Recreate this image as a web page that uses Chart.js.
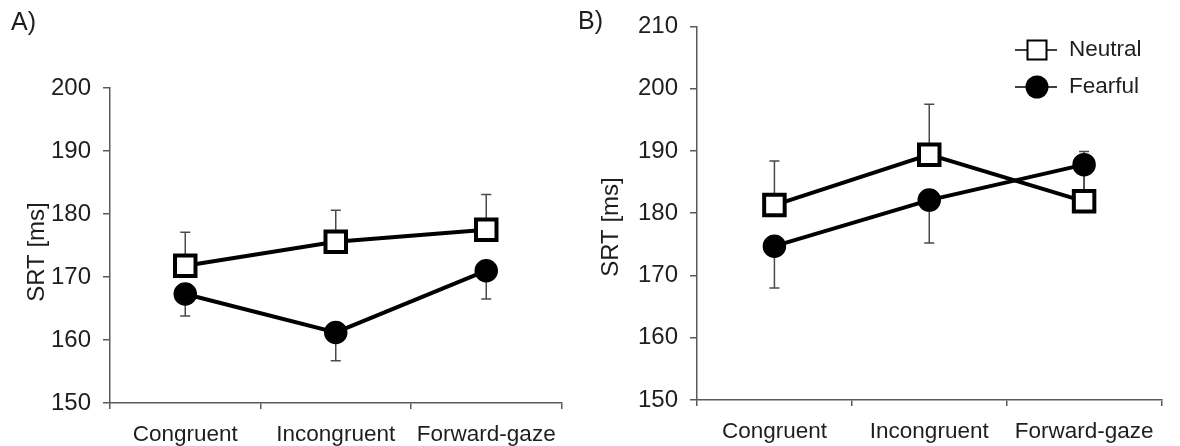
<!DOCTYPE html>
<html>
<head>
<meta charset="utf-8">
<script src="https://cdn.jsdelivr.net/npm/chart.js@4/dist/chart.umd.min.js"></script>
<style>
  html, body { margin: 0; padding: 0; background: #fff; }
  #wrap { position: relative; width: 1180px; height: 446px; overflow: hidden; }
  #boxA { position: absolute; left: 0; top: 0; width: 580px; height: 446px; }
  #boxB { position: absolute; left: 575px; top: 0; width: 605px; height: 446px; }
</style>
</head>
<body>
<div id="wrap">
  <div id="boxA"><canvas id="chartA" width="580" height="446"></canvas></div>
  <div id="boxB"><canvas id="chartB" width="605" height="446"></canvas></div>
</div>
<script>
// categories and series
const categories = ['Congruent', 'Incongruent', 'Forward-gaze'];
const seriesNames = ['Neutral', 'Fearful'];

// panel A
const neutralA = [171.8, 175.6, 177.5];
const neutralAErr = [5.3, 5.0, 5.6];
const fearfulA = [167.3, 161.2, 171.0];
const fearfulAErr = [3.5, 4.5, 4.5];

// panel B
const neutralB = [181.3, 189.4, 181.9];
const neutralBErr = [7.1, 8.1, 8.0];
const fearfulB = [174.7, 182.1, 187.8];
const fearfulBErr = [6.7, 6.9, 5.0];

// y axis ranges
const yTicksA = [150, 160, 170, 180, 190, 200];
const yTicksB = [150, 160, 170, 180, 190, 200, 210];

const FONT = '"Liberation Sans", Arial, sans-serif';
const TEXT = '#1e1e1e';
const AXIS = '#5a5a5a';

// error bars, drawn behind the lines and markers
const errorBarPlugin = {
    id: 'errorBars',
    beforeDatasetsDraw(chart) {
        const ctx = chart.ctx;
        const yScale = chart.scales.y;
        ctx.save();
        ctx.strokeStyle = '#4a4a4a';
        ctx.lineWidth = 1.5;
        chart.data.datasets.forEach((ds, i) => {
            const meta = chart.getDatasetMeta(i);
            meta.data.forEach((pt, j) => {
                const end = ds.data[j] + ds.errorDir * ds.errors[j];
                const y0 = yScale.getPixelForValue(ds.data[j]);
                const y1 = yScale.getPixelForValue(end);
                ctx.beginPath();
                ctx.moveTo(pt.x, y0);
                ctx.lineTo(pt.x, y1);
                ctx.moveTo(pt.x - 5, y1);
                ctx.lineTo(pt.x + 5, y1);
                ctx.stroke();
            });
        });
        ctx.restore();
    }
};

// panel letters, y title and the legend
const extraTextPlugin = {
    id: 'extraText',
    afterDraw(chart, args, opts) {
        const ctx = chart.ctx;
        ctx.save();
        ctx.fillStyle = TEXT;
        (opts.items || []).forEach(it => {
            ctx.save();
            ctx.font = it.size + 'px ' + FONT;
            ctx.textBaseline = 'middle';
            ctx.textAlign = it.align || 'left';
            ctx.translate(it.x, it.y);
            if (it.rotate) ctx.rotate(it.rotate);
            ctx.fillText(it.text, 0, 0);
            ctx.restore();
        });
        if (opts.legend) {
            const lg = opts.legend;
            chart.data.datasets.forEach((ds, i) => {
                const y = lg.y + i * lg.gap;
                ctx.strokeStyle = '#000';
                ctx.lineWidth = 1.5;
                ctx.beginPath();
                ctx.moveTo(lg.x, y);
                ctx.lineTo(lg.x + 42, y);
                ctx.stroke();
                const cx = lg.x + 22;
                ctx.beginPath();
                if (ds.pointStyle === 'rect') {
                    ctx.rect(cx - 9.5, y - 9.5, 19, 19);
                    ctx.fillStyle = '#fff';
                    ctx.fill();
                    ctx.lineWidth = 2;
                    ctx.stroke();
                } else {
                    ctx.arc(cx, y, 11.5, 0, Math.PI * 2);
                    ctx.fillStyle = '#000';
                    ctx.fill();
                }
                ctx.fillStyle = TEXT;
                ctx.font = '22.5px ' + FONT;
                ctx.textBaseline = 'middle';
                ctx.textAlign = 'left';
                ctx.fillText(ds.label, lg.x + 54, y);
            });
        }
        ctx.restore();
    }
};

function makeDatasets(neutral, neutralErr, fearful, fearfulErr) {
    return [
        {
            label: seriesNames[0],
            data: neutral,
            errors: neutralErr,
            errorDir: 1,
            borderColor: '#000',
            borderWidth: 4,
            pointStyle: 'rect',
            pointRadius: 14.5,
            pointBorderWidth: 4,
            pointBackgroundColor: '#fff',
            pointBorderColor: '#000',
            tension: 0
        },
        {
            label: seriesNames[1],
            data: fearful,
            errors: fearfulErr,
            errorDir: -1,
            borderColor: '#000',
            borderWidth: 4,
            pointStyle: 'circle',
            pointRadius: 11,
            pointBorderWidth: 1.5,
            pointBackgroundColor: '#000',
            pointBorderColor: '#000',
            tension: 0
        }
    ];
}

function makeOptions(yTicks, yWidth, xHeight, padding, textOpts) {
    return {
        responsive: false,
        animation: false,
        events: [],
        layout: { padding: padding },
        scales: {
            x: {
                type: 'category',
                offset: true,
                grid: { display: true, offset: true, drawOnChartArea: false, tickLength: 6, color: AXIS, lineWidth: 1.5 },
                border: { display: true, color: AXIS, width: 1.5 },
                ticks: { color: TEXT, font: { family: FONT, size: 22.5 }, padding: 12, maxRotation: 0 },
                afterFit: s => { s.height = xHeight; }
            },
            y: {
                min: yTicks[0],
                max: yTicks[yTicks.length - 1],
                afterBuildTicks: s => { s.ticks = yTicks.map(v => ({ value: v })); },
                grid: { display: true, drawOnChartArea: false, tickLength: 7, color: AXIS, lineWidth: 1.5 },
                border: { display: true, color: AXIS, width: 1.5 },
                ticks: { color: TEXT, font: { family: FONT, size: 24 }, padding: 12 },
                afterFit: s => { s.width = yWidth; }
            }
        },
        plugins: {
            legend: { display: false },
            tooltip: { enabled: false },
            extraText: textOpts
        }
    };
}

new Chart(document.getElementById('chartA'), {
    type: 'line',
    data: { labels: categories, datasets: makeDatasets(neutralA, neutralAErr, fearfulA, fearfulAErr) },
    options: makeOptions(yTicksA, 110, 43, { left: 0, right: 11, top: 88, bottom: 0 }, {
        items: [
            { text: 'A)', x: 11, y: 23, size: 25 },
            { text: 'SRT [ms]', x: 37, y: 252, size: 24, align: 'center', rotate: -Math.PI / 2 }
        ]
    }),
    plugins: [errorBarPlugin, extraTextPlugin]
});

new Chart(document.getElementById('chartB'), {
    type: 'line',
    data: { labels: categories, datasets: makeDatasets(neutralB, neutralBErr, fearfulB, fearfulBErr) },
    options: makeOptions(yTicksB, 122, 46, { left: 0, right: 4, top: 21, bottom: 0 }, {
        items: [
            { text: 'B)', x: 3, y: 22, size: 25 },
            { text: 'SRT [ms]', x: 36, y: 227, size: 24, align: 'center', rotate: -Math.PI / 2 }
        ],
        legend: { x: 440, y: 50, gap: 37 }
    }),
    plugins: [errorBarPlugin, extraTextPlugin]
});
</script>
</body>
</html>
